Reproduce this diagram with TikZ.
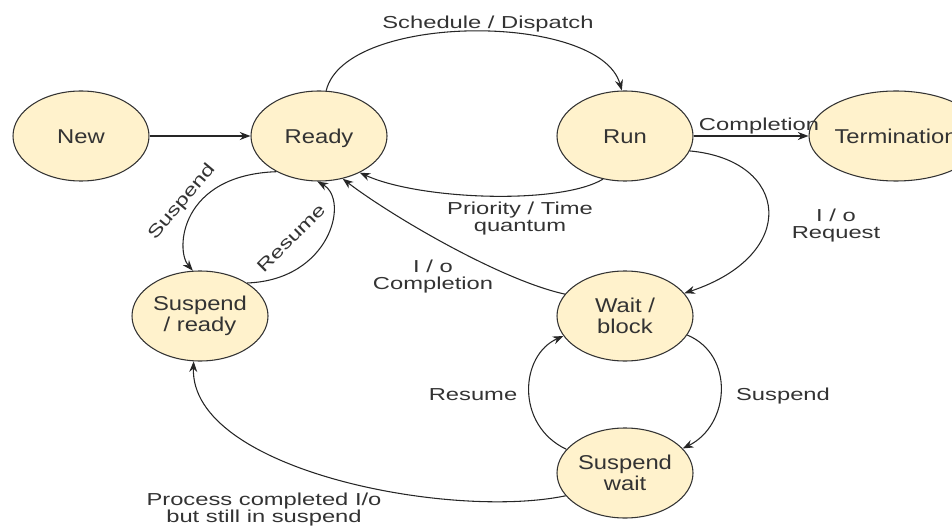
\documentclass[tikz,border=0pt]{standalone}
\usepackage{fontspec}
\setmainfont{Liberation Sans}
\newfontfamily\statefont{Liberation Sans}[FakeStretch=1.19]
\newfontfamily\lblfont{Liberation Sans}[FakeStretch=1.37]
\usetikzlibrary{shapes.geometric,positioning,arrows.meta}
\definecolor{statefill}{HTML}{FFF2CC}

\begin{document}
\begin{tikzpicture}[x=0.75pt,y=-0.75pt,on grid,
    state/.style={ellipse,draw=black!80,fill=statefill,line width=0.8pt,
      minimum width=102pt,minimum height=67.5pt,inner sep=0pt,align=center,text=black!80,
      font=\statefont\fontsize{15pt}{15.5pt}\selectfont},
    oneline/.style={text height=10.7pt,text depth=0pt},
    trans/.style={-{Stealth[length=8pt,width=6pt]},line width=0.8pt,draw=black!85},
    lbl/.style={align=center,text=black!80,inner sep=1pt,
      font=\lblfont\fontsize{13pt}{12.75pt}\selectfont}]
  \useasboundingbox (0,0) rectangle (952,527);

  % states
  \node[state, oneline]                        (new)   at (81,136) {New};
  \node[state, oneline, right=178.5pt of new]   (ready) {Ready};
  \node[state, oneline, right=229.5pt of ready] (run)   {Run};
  \node[state, oneline, right=203.25pt of run]  (term)  {Termination};
  \node[state, below=135pt of run]     (wait)  {Wait /\\block};
  \node[state, below=117.75pt of wait] (swait) {Suspend\\wait};
  \node[state, below=135pt of ready, xshift=-89.25pt] (sready) {Suspend\\/ ready};

  % transitions
  \draw[trans] (new) -- (ready);
  \draw[trans] (ready.81) .. controls (345,12) and (600,12) .. (run.94);
  \draw[trans] (run.243) .. controls (560,205) and (420,200) .. (ready.318);
  \draw[trans] (run) -- (term);
  \draw[trans] (run.347) .. controls (790,160) and (800,255) .. (wait.21);
  \draw[trans] (wait.160) .. controls (500,280) and (390,215) .. (ready.299);
  \draw[trans] (ready.220) .. controls (180,175) and (175,250) .. (sready.99);
  \draw[trans] (sready.35) .. controls (330,280) and (350,200) .. (ready.268);
  \draw[trans] (wait.343) .. controls (735,355) and (730,425) .. (swait.23);
  \draw[trans] (swait.158) .. controls (515,425) and (520,355) .. (wait.198);
  \draw[trans] (swait.201) .. controls (450,520) and (190,470) .. (sready.262);

  % labels
  \node[lbl] (l-sched)  at (488,24)  {Schedule / Dispatch};
  \node[lbl] (l-prio)   at (520,219) {Priority / Time\\quantum};
  \node[lbl] (l-compl)  at (759,126) {Completion};
  \node[lbl] (l-ioreq)  at (836,226) {I / o\\Request};
  \node[lbl] (l-iocomp) at (433,277) {I / o\\Completion};
  \node[lbl, rotate=50] (l-susp1) at (182,202) {Suspend};
  \node[lbl, rotate=45] (l-res1)  at (291,238) {Resume};
  \node[lbl] (l-res2)   at (473,395) {Resume};
  \node[lbl] (l-susp2)  at (783,396) {Suspend};
  \node[lbl] (l-proc)   at (264,510) {Process completed I/o\\but still in suspend};
\end{tikzpicture}
\end{document}
